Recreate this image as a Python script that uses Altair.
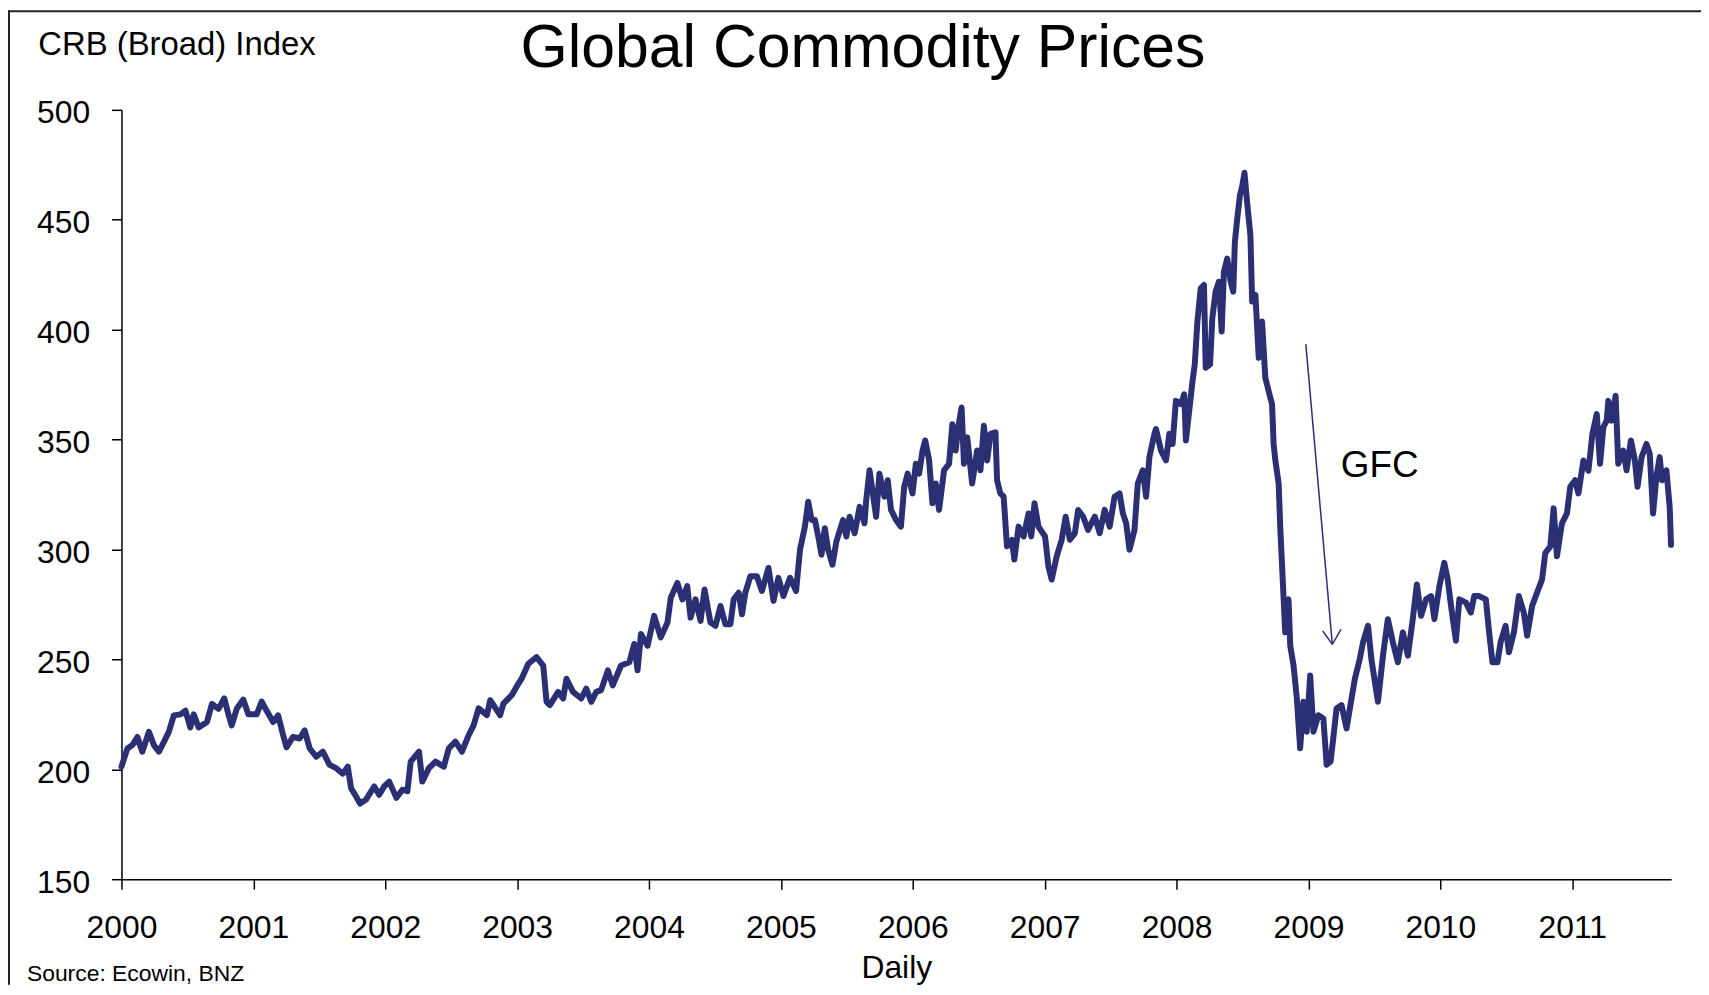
import altair as alt
import pandas as pd

# ---------------- data ----------------
years = [
    2000.000, 2000.045, 2000.083, 2000.121, 2000.158, 2000.208, 2000.246, 2000.284, 2000.322, 2000.359,
    2000.397, 2000.447, 2000.485, 2000.522, 2000.548, 2000.585, 2000.648, 2000.686, 2000.736, 2000.779,
    2000.811, 2000.836, 2000.874, 2000.924, 2000.962, 2001.025, 2001.063, 2001.100, 2001.150, 2001.188,
    2001.226, 2001.251, 2001.301, 2001.351, 2001.389, 2001.427, 2001.477, 2001.527, 2001.578, 2001.628,
    2001.678, 2001.716, 2001.741, 2001.778, 2001.809, 2001.854, 2001.917, 2001.954, 2001.992, 2002.030,
    2002.085, 2002.130, 2002.168, 2002.193, 2002.256, 2002.281, 2002.331, 2002.381, 2002.444, 2002.482,
    2002.532, 2002.582, 2002.633, 2002.670, 2002.708, 2002.771, 2002.796, 2002.871, 2002.896, 2002.959,
    2003.009, 2003.034, 2003.085, 2003.147, 2003.198, 2003.223, 2003.248, 2003.311, 2003.349, 2003.374,
    2003.424, 2003.486, 2003.524, 2003.562, 2003.600, 2003.637, 2003.688, 2003.725, 2003.788, 2003.851,
    2003.888, 2003.913, 2003.939, 2003.989, 2004.039, 2004.089, 2004.140, 2004.165, 2004.215, 2004.253,
    2004.290, 2004.315, 2004.353, 2004.391, 2004.421, 2004.466, 2004.504, 2004.542, 2004.579, 2004.617,
    2004.642, 2004.680, 2004.705, 2004.730, 2004.768, 2004.818, 2004.856, 2004.906, 2004.944, 2004.981,
    2005.019, 2005.069, 2005.115, 2005.145, 2005.182, 2005.207, 2005.233, 2005.258, 2005.283, 2005.308,
    2005.333, 2005.358, 2005.391, 2005.421, 2005.471, 2005.496,
    2005.521, 2005.559, 2005.597, 2005.634, 2005.647, 2005.672, 2005.697, 2005.722, 2005.747, 2005.785,
    2005.810, 2005.835, 2005.873, 2005.910, 2005.935, 2005.961, 2005.998, 2006.023, 2006.048, 2006.074,
    2006.094, 2006.124, 2006.149, 2006.174, 2006.199, 2006.237, 2006.275, 2006.300, 2006.325, 2006.345,
    2006.370, 2006.388, 2006.413, 2006.450, 2006.488, 2006.513, 2006.539, 2006.564, 2006.589, 2006.627,
    2006.639, 2006.664, 2006.689, 2006.714, 2006.752, 2006.770, 2006.802, 2006.840, 2006.878, 2006.898,
    2006.923, 2006.953, 2007.003, 2007.028, 2007.053, 2007.091, 2007.129, 2007.159, 2007.191, 2007.229,
    2007.254, 2007.292, 2007.329, 2007.380, 2007.417, 2007.455, 2007.493, 2007.530, 2007.568, 2007.593,
    2007.618, 2007.643, 2007.681, 2007.706, 2007.744, 2007.769, 2007.794, 2007.832,
    2007.844, 2007.882, 2007.920, 2007.945, 2007.970, 2007.995, 2008.033, 2008.058, 2008.071, 2008.096,
    2008.121, 2008.138, 2008.158, 2008.183, 2008.208, 2008.221, 2008.254, 2008.271, 2008.296, 2008.321,
    2008.342, 2008.359, 2008.384, 2008.410, 2008.430, 2008.442, 2008.460, 2008.480, 2008.498, 2008.515,
    2008.535, 2008.560, 2008.573, 2008.598, 2008.623, 2008.648, 2008.673, 2008.698, 2008.724, 2008.736,
    2008.749, 2008.774, 2008.787,
    2008.824, 2008.849, 2008.862, 2008.887, 2008.912, 2008.937, 2008.962, 2008.987, 2009.013, 2009.038,
    2009.075, 2009.113, 2009.138, 2009.168, 2009.188, 2009.213, 2009.251, 2009.289, 2009.314, 2009.352,
    2009.389, 2009.414, 2009.452, 2009.477,
    2009.527, 2009.565, 2009.602, 2009.640, 2009.678, 2009.716, 2009.754, 2009.791, 2009.822, 2009.854,
    2009.892, 2009.930, 2009.955, 2009.993, 2010.030, 2010.056, 2010.081, 2010.118, 2010.144, 2010.194,
    2010.231, 2010.257, 2010.294, 2010.345, 2010.370, 2010.395, 2010.433, 2010.457, 2010.495, 2010.520,
    2010.558, 2010.595, 2010.633, 2010.658, 2010.696, 2010.733, 2010.771, 2010.796, 2010.834, 2010.859,
    2010.884, 2010.922, 2010.960, 2010.985, 2011.022, 2011.047, 2011.085, 2011.123, 2011.153, 2011.186,
    2011.211, 2011.236, 2011.261, 2011.274, 2011.299, 2011.329, 2011.349, 2011.387, 2011.412, 2011.445,
    2011.475, 2011.495, 2011.526, 2011.563, 2011.588, 2011.613, 2011.638, 2011.663, 2011.681, 2011.714,
    2011.739, 2011.749,
]

crb = [
    201.2, 209.5, 211.0, 214.7, 208.0, 217.0, 211.0, 208.0, 212.5, 217.0,
    224.5, 225.0, 226.7, 219.0, 225.0, 219.0, 221.5, 229.7, 227.5, 232.3,
    225.0, 220.0, 227.5, 231.7, 225.0, 225.0, 230.8, 226.7, 221.5, 224.5,
    215.5, 210.0, 214.7, 214.0, 217.7, 209.5, 205.7, 208.0, 202.0, 200.5,
    198.0, 201.2, 191.4, 187.7, 184.4, 186.2, 192.2, 188.4, 192.2, 194.4,
    187.0, 190.7, 190.0, 203.5, 208.0, 194.4, 200.5, 203.5, 201.2, 209.5,
    212.6, 208.0, 215.6, 220.0, 227.7, 224.6, 231.4, 224.6, 229.9, 233.7,
    238.9, 241.2, 248.0, 251.0, 247.2, 230.7, 229.2, 235.2, 232.2, 241.2,
    235.2, 232.2, 236.7, 230.7, 235.2, 236.0, 245.0, 238.2, 247.2, 248.7,
    257.0, 245.0, 261.5, 256.2, 269.8, 260.0, 266.8, 278.0, 284.8, 277.3,
    283.3, 269.0, 277.3, 267.5, 281.8, 266.8, 265.3, 274.3, 266.0, 266.0,
    277.3, 280.3, 270.5, 280.3, 287.8, 287.8, 281.1, 291.6, 276.6, 287.1,
    278.8, 287.1, 281.1, 299.9, 310.4, 321.7, 313.4, 313.4, 305.9, 297.6,
    309.7, 299.9, 293.1, 303.7, 313.4, 305.9,
    314.9, 307.4, 319.4, 311.9, 322.5, 336.0, 325.5, 314.9, 334.5, 324.0,
    331.5, 318.0, 313.4, 310.4, 328.5, 334.5, 325.5, 339.0, 334.5, 345.0,
    349.6, 340.5, 321.0, 330.0, 318.0, 336.0, 339.0, 357.0, 345.0, 355.6,
    364.6, 339.0, 351.0, 330.0, 345.0, 336.0, 356.3, 340.5, 352.6, 353.3,
    331.5, 325.5, 324.0, 301.4, 304.4, 295.4, 310.4, 305.9, 316.4, 305.9,
    321.0, 310.4, 305.9, 292.4, 286.3, 296.9, 304.4, 314.9, 304.4, 307.4,
    318.0, 314.9, 308.9, 314.9, 307.4, 318.0, 310.4, 324.0, 325.5, 316.4,
    311.9, 299.9, 308.9, 330.0, 336.0, 324.0, 342.0, 352.6,
    354.8, 345.0, 340.5, 352.6, 348.0, 367.6, 366.1, 370.6, 349.6, 363.1,
    376.6, 384.2, 403.7, 418.8, 420.3, 382.7, 384.2, 405.2, 417.3, 421.8,
    399.2, 426.3, 432.3, 421.8, 417.3, 439.8, 450.4, 460.9, 465.4, 471.4,
    457.9, 442.9, 412.8, 415.8, 387.2, 403.7, 378.1, 372.1, 366.1, 348.0,
    340.5, 330.0, 308.9,
    262.3, 277.3, 256.2, 247.2, 232.2, 209.6, 230.7, 217.1, 242.7, 217.1,
    224.6, 223.1, 202.1, 203.6, 214.1, 227.7, 229.2, 218.6, 227.7, 241.2,
    250.2, 257.8, 265.3, 250.2,
    230.7, 251.7, 268.3, 257.8, 248.7, 262.3, 251.7, 268.3, 284.1, 269.8,
    277.3, 278.8, 268.3, 283.3, 293.9, 286.3, 274.3, 258.5, 277.3, 275.8,
    271.3, 278.8, 278.8, 277.3, 262.3, 248.7, 248.7, 257.8, 265.3, 253.2,
    262.3, 278.8, 271.3, 260.8, 274.3, 280.3, 286.3, 298.4, 301.4, 318.7,
    296.9, 311.9, 316.4, 328.5, 331.5, 325.5, 340.5, 335.8, 352.6, 361.6,
    339.0, 355.6, 358.6, 367.6, 358.6, 369.9, 339.0, 345.0, 336.0, 349.6,
    340.5, 328.5, 342.0, 348.0, 343.5, 316.4, 333.0, 342.0, 331.5, 336.0,
    319.4, 302.1,
]

x_ticks = list(range(2000, 2012))
y_ticks = [150, 200, 250, 300, 350, 400, 450, 500]

title_text = "Global Commodity Prices"
y_title = "CRB (Broad) Index"
x_title = "Daily"
source_text = "Source: Ecowin, BNZ"

gfc_label = ["GFC"]
gfc_year = [2009.245]
gfc_value = [333.0]

# arrow: shaft and the two arms of the head, all ending at the tip
arrow_year = [2008.980, 2009.108, 2009.247]
arrow_value = [393.4, 262.9, 263.6]
arrow_year2 = [2009.181, 2009.181, 2009.181]
arrow_value2 = [256.8, 256.8, 256.8]

# ---------------- styling ----------------
FONT = "Liberation Sans, Arial, Helvetica, sans-serif"
NAVY = "#2B2F74"

df = pd.DataFrame({"year": years, "crb": crb})
arrow_df = pd.DataFrame({"year": arrow_year, "crb": arrow_value,
                         "year2": arrow_year2, "crb2": arrow_value2})
gfc_df = pd.DataFrame({"year": gfc_year, "crb": gfc_value, "label": gfc_label})

x_scale = alt.Scale(domain=[2000, 2011.75], nice=False, zero=False)
y_scale = alt.Scale(domain=[150, 500], nice=False, zero=False)

x_axis = alt.Axis(values=x_ticks, format="d", title=x_title,
                  tickSize=10, labelPadding=24, labelOverlap=False,
                  labelFlush=False,
                  titleX=778.5, titleY=99, titleAlign="center",
                  titleBaseline="alphabetic")
y_axis = alt.Axis(values=y_ticks, format="d", title=y_title,
                  tickSize=10, labelPadding=22, labelOffset=3,
                  labelOverlap=False, labelFlush=False,
                  titleAngle=0, titleX=-84, titleY=-56, titleFontSize=33,
                  titleAlign="left", titleBaseline="alphabetic")


def x_enc():
    return alt.X("year:Q", scale=x_scale, axis=x_axis, title=x_title)


def y_enc():
    return alt.Y("crb:Q", scale=y_scale, axis=y_axis, title=y_title)


line = alt.Chart(df).mark_line(
    color=NAVY, strokeWidth=6, strokeJoin="round", strokeCap="round"
).encode(x=x_enc(), y=y_enc())

arrow = alt.Chart(arrow_df).mark_rule(color=NAVY, strokeWidth=1.5).encode(
    x=x_enc(), y=y_enc(), x2="year2:Q", y2="crb2:Q",
)

gfc = alt.Chart(gfc_df).mark_text(
    font=FONT, fontSize=37, align="left", baseline="alphabetic", color="black"
).encode(x=x_enc(), y=y_enc(), text="label:N")

title = alt.Chart(pd.DataFrame({"t": [title_text]})).mark_text(
    font=FONT, fontSize=61, align="center", baseline="alphabetic", color="black"
).encode(x=alt.value(745), y=alt.value(-43), text="t:N")

source = alt.Chart(pd.DataFrame({"t": [source_text]})).mark_text(
    font=FONT, fontSize=23, align="left", baseline="alphabetic", color="black"
).encode(x=alt.value(-95), y=alt.value(875), text="t:N")

frame_top = alt.Chart(pd.DataFrame({"k": [0]})).mark_rule(
    color="#222222", strokeWidth=2
).encode(x=alt.value(-114), x2=alt.value(1587), y=alt.value(-99))

frame_left = alt.Chart(pd.DataFrame({"k": [0]})).mark_rule(
    color="#222222", strokeWidth=2
).encode(x=alt.value(-113), y=alt.value(-100), y2=alt.value(879))

chart = alt.layer(
    line, arrow, gfc, title, source, frame_top, frame_left
).properties(
    width=1557,
    height=773,
    padding={"left": 114, "top": 100, "right": 30, "bottom": 104},
    autosize=alt.AutoSizeParams(type="none"),
    background="white",
).configure_view(
    strokeWidth=0
).configure_axis(
    grid=False,
    domainColor="black",
    domainWidth=1.5,
    tickColor="black",
    tickWidth=1.5,
    labelColor="black",
    labelFont=FONT,
    labelFontSize=32,
    titleColor="black",
    titleFont=FONT,
    titleFontSize=32,
    titleFontWeight="normal",
)

chart.save("out.html", embed_options={"renderer": "svg", "actions": False})
